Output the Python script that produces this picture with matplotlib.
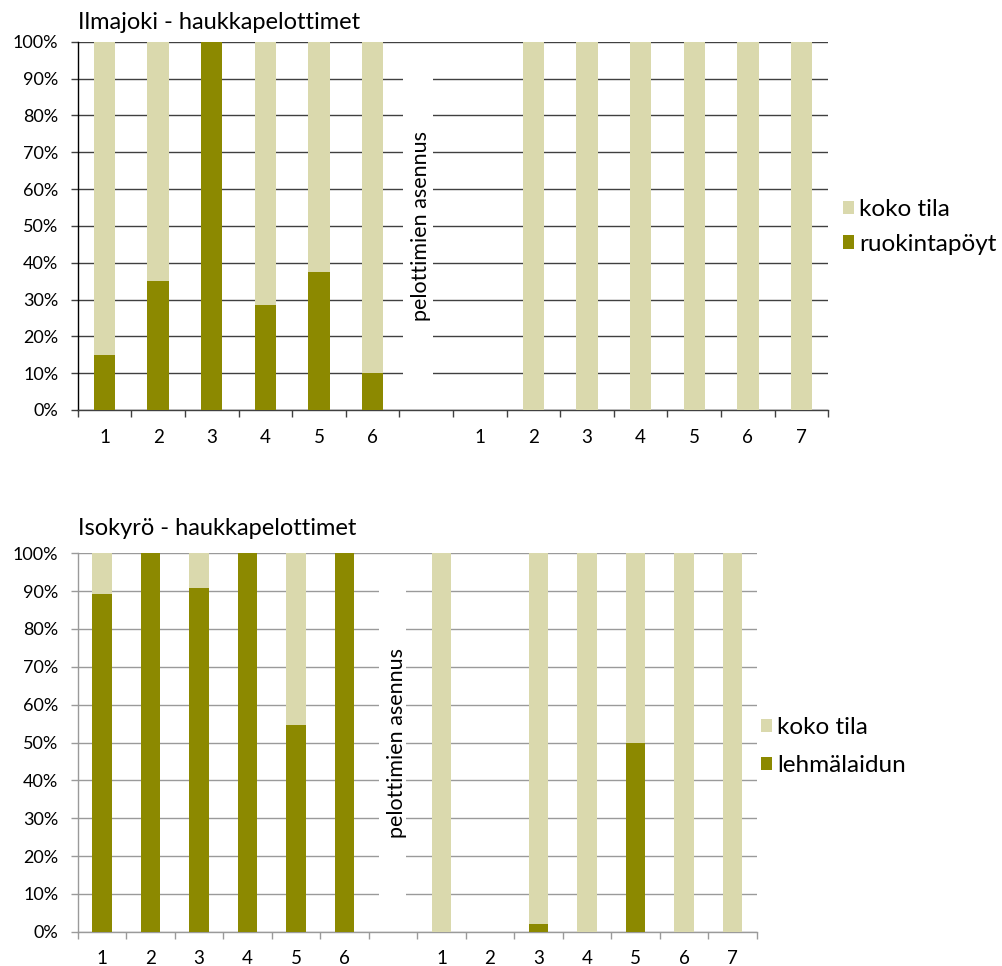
import numpy as np
import matplotlib
matplotlib.use("Agg")
import matplotlib.pyplot as plt
from matplotlib.patches import Rectangle, Patch

plt.rcParams['font.family'] = ['Lato', 'DejaVu Sans']

# Category labels: six sites before installation, a spacer, seven after
labels_top = ['1', '2', '3', '4', '5', '6', '', '1', '2', '3', '4', '5', '6', '7']
labels_bottom = ['1', '2', '3', '4', '5', '6', '', '1', '2', '3', '4', '5', '6', '7']

# Ilmajoki shares (%)
ilmajoki_ruokintapoyta = [15, 35, 100, 28.5, 37.5, 10, 0, 0, 0, 0, 0, 0, 0, 0]
ilmajoki_koko_tila = [85, 65, 0, 71.5, 62.5, 90, 0, 0, 100, 100, 100, 100, 100, 100]

# Isokyrö shares (%)
isokyro_lehmalaidun = [89.3, 100, 90.9, 100, 54.5, 100, 0, 0, 0, 2.1, 0, 50, 0, 0]
isokyro_koko_tila = [10.7, 0, 9.1, 0, 45.5, 0, 0, 100, 0, 97.9, 100, 50, 100, 100]

LIGHT = '#DAD9AD'
DARK = '#8C8900'

W, H = 1002, 966
fig = plt.figure(figsize=(W / 100, H / 100), dpi=100)


def px_axes(left, top, right, bottom):
    return fig.add_axes([left / W, (H - bottom) / H, (right - left) / W, (bottom - top) / H])


def draw_panel(ax, labels, lower, upper, lower_name, upper_name, title, title_y,
               grid_col, spine_col, gap, text_x, legend_xy, legend_spacing):
    n = len(labels)
    x = np.arange(n)
    ax.bar(x, lower, width=0.4, color=DARK, zorder=3)
    ax.bar(x, upper, width=0.4, bottom=lower, color=LIGHT, zorder=3)
    ax.set_xlim(-0.5, n - 0.5)
    ax.set_ylim(0, 100)

    yt = np.arange(0, 101, 10)
    ax.set_yticks(yt)
    ax.set_yticklabels([f'{v}%' for v in yt], fontsize=13, color='black')
    ax.yaxis.grid(True, color=grid_col, linewidth=1.0, zorder=1)
    ax.set_axisbelow(True)
    ax.tick_params(axis='y', length=5, width=1.0, color=grid_col, pad=9)

    # ticks at category boundaries, labels at category centres
    ax.set_xticks(np.arange(-0.5, n, 1.0))
    ax.set_xticklabels([])
    ax.set_xticks(x, minor=True)
    ax.set_xticklabels(labels, minor=True, fontsize=13.5)
    ax.tick_params(axis='x', which='major', length=5, width=1.0, color=grid_col)
    ax.tick_params(axis='x', which='minor', length=0, pad=13.5)

    for s in ('top', 'right'):
        ax.spines[s].set_visible(False)
    ax.spines['left'].set_color(spine_col)
    ax.spines['bottom'].set_color(grid_col)
    ax.spines['left'].set_linewidth(1.0)
    ax.spines['bottom'].set_linewidth(1.0)

    # text box over the spacer category
    ax.add_patch(Rectangle((gap[0], 1.5), gap[1] - gap[0], 97, facecolor='white',
                           edgecolor='none', zorder=2))
    ax.text(text_x, 50, 'pelottimien asennus', rotation=90, ha='center', va='center',
            fontsize=15.5, zorder=4)

    ax.text(0, title_y, title, transform=ax.transAxes, ha='left', va='baseline',
            fontsize=17)

    handles = [Patch(facecolor=LIGHT, edgecolor='none', label=upper_name),
               Patch(facecolor=DARK, edgecolor='none', label=lower_name)]
    ax.legend(handles=handles, loc='center left', bbox_to_anchor=legend_xy,
              frameon=False, fontsize=17.5, handlelength=0.46, handleheight=0.46,
              handletextpad=0.2, labelspacing=legend_spacing, borderpad=0,
              borderaxespad=0)


ax1 = px_axes(77.7, 41.7, 828.3, 410)
draw_panel(ax1, labels_top, ilmajoki_ruokintapoyta, ilmajoki_koko_tila,
           'ruokintapöyt', 'koko tila', 'Ilmajoki - haukkapelottimet', 1.0337,
           '#404040', 'black', (5.57, 6.13), 5.9, (1.02, 0.497), 0.55)

ax2 = px_axes(77.7, 553.3, 756.7, 931.7)
draw_panel(ax2, labels_bottom, isokyro_lehmalaidun, isokyro_koko_tila,
           'lehmälaidun', 'koko tila', 'Isokyrö - haukkapelottimet', 1.048,
           '#9a9a9a', '#9a9a9a', (5.71, 6.27), 6.08, (1.006, 0.49), 0.7)

fig.savefig('out.png', dpi=100)
